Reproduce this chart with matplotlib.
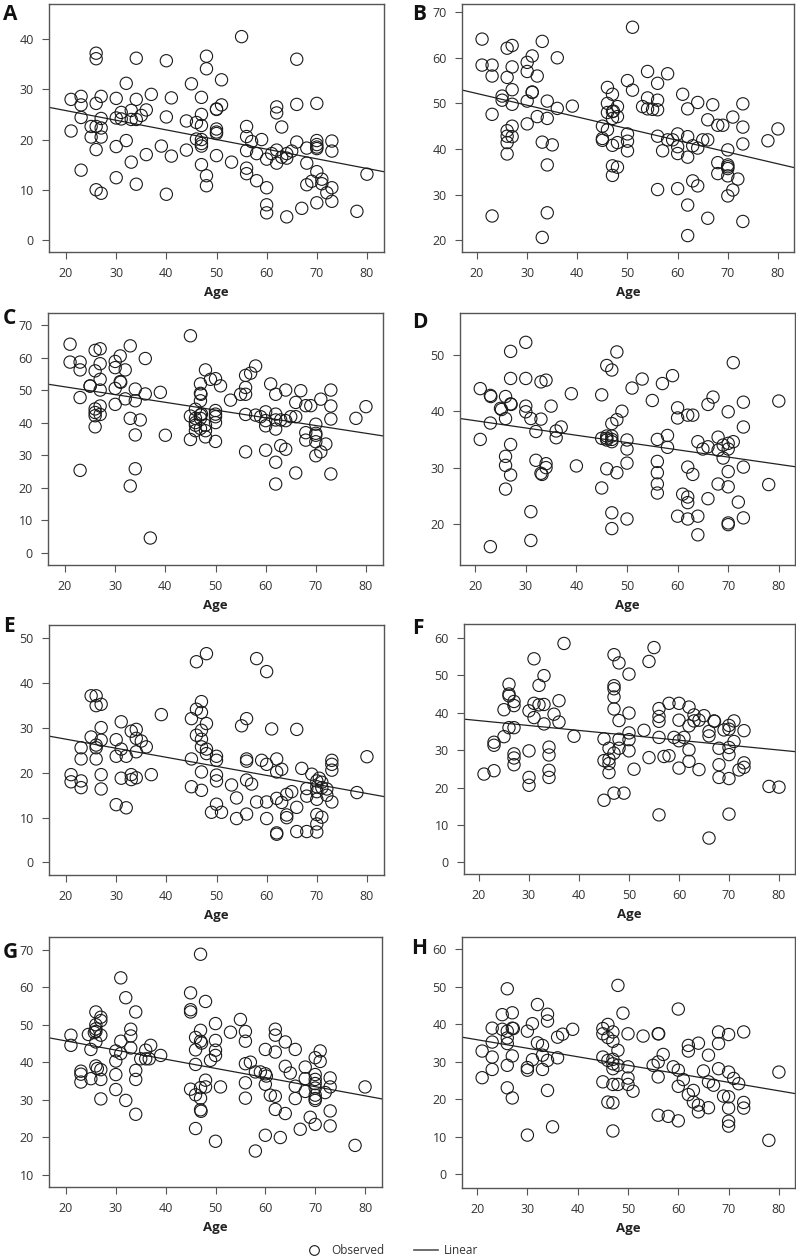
import matplotlib
matplotlib.use("Agg")
import matplotlib.pyplot as plt
from matplotlib.lines import Line2D
import numpy as np

plt.rcParams['font.family'] = ['Open Sans', 'DejaVu Sans']

# ---------------- data (age, value) ----------------
obs_A = [(55,40.5),(26,37.2),(26,36.1),(34,36.2),(40,35.7),(48,36.6),(48,34.1),(66,36.0),(45,31.1),(32,31.2),(51,31.9),
         (21,28.0),(23,28.6),(23,26.9),(23,24.4),(27,28.6),(30,28.2),(34,28.0),(37,29.0),(41,28.3),(47,28.4),(26,27.2),(27,24.2),
         (30,24.3),(31,24.1),(31,25.4),(33,25.8),(33,24.0),(34,24.0),(35,24.8),(36,25.9),(40,24.5),(44,23.7),(46,23.4),(47,25.0),(47,22.8),
         (50,26.1),(50,26.0),(51,26.9),(50,22.1),(50,21.5),(50,21.2),(21,21.7),(25,22.6),(26,22.6),(27,22.3),(25,20.5),(27,20.5),(26,18.0),
         (32,19.8),(30,18.6),(23,13.9),(33,15.5),(36,17.0),(39,18.7),(41,16.7),(44,17.9),(46,20.1),(47,20.0),(47,19.2),(47,18.7),(47,15.0),
         (50,16.8),(48,12.8),(48,10.8),(30,12.4),(26,10.0),(27,9.3),(34,11.1),(40,9.1),(53,15.5),(56,22.6),(56,20.6),(56,17.8),(57,19.6),
         (59,20.0),(58,17.2),(56,14.3),(56,13.2),(58,11.8),(60,10.4),(60,7.0),(60,5.4),(64,4.6),(62,26.5),(62,25.3),(63,22.5),(61,17.2),
         (60,16.1),(62,17.9),(62,15.3),(63,16.5),(64,17.2),(64,16.3),(65,17.7),(66,19.5),(66,27.0),(70,27.2),(68,18.3),(70,19.8),(70,19.0),
         (70,18.5),(70,18.2),(73,19.7),(73,17.7),(68,15.3),(70,13.6),(71,12.1),(71,11.2),(68,11.0),(69,11.7),(72,9.4),(73,10.4),(70,7.4),
         (73,7.7),(67,6.3),(78,5.7),(80,13.1)]

obs_B = [(21,64.1),(21,58.4),(23,58.4),(23,56.0),(26,62.1),(27,62.7),(27,58.0),(26,55.7),(27,53.0),(25,51.6),(25,50.7),(27,49.8),
         (23,47.6),(26,44.0),(26,42.8),(26,41.4),(27,45.0),(27,42.7),(26,38.9),(30,59.0),(30,57.0),(31,60.4),(31,52.5),(31,52.4),
         (32,56.0),(30,50.5),(30,45.5),(32,47.1),(33,63.6),(34,50.5),(34,46.7),(33,41.5),(35,40.9),(34,36.5),(34,26.0),(33,20.6),
         (23,25.3),(36,60.0),(36,48.9),(39,49.4),(46,53.5),(46,50.0),(46,48.0),(47,52.0),(47,48.2),(47.2,48.3),(47,46.7),(46,44.2),
         (45,45.0),(45,42.3),(45,41.9),(48,49.3),(48,47.1),(47,40.8),(48,41.4),(47,36.3),(47,34.2),(48,36.0),(50,55.0),(51,52.9),
         (51,66.7),(50,43.3),(50,41.7),(50,39.6),(53,49.3),(54,57.0),(54,51.2),(54,48.8),(55,48.7),(56,48.6),(56,54.4),(56,50.7),
         (58,56.5),(56,42.8),(58,42.0),(59,42.0),(57,39.6),(56,31.1),(61,52.0),(62,48.8),(64,50.2),(60,43.3),(60,40.5),(60,39.0),
         (62,42.7),(63,40.7),(65,42.0),(64,40.2),(66,42.0),(62,38.2),(63,33.0),(64,31.9),(60,31.3),(62,27.7),(62,21.0),(66,24.8),
         (66,46.4),(67,49.7),(68,45.2),(69,45.2),(71,47.0),(73,49.9),(73,44.8),(73,41.1),(70,39.8),(68,37.0),(68,34.6),(70,36.5),
         (70,36.1),(70,35.7),(70,34.1),(70,29.7),(72,33.4),(71,31.0),(73,24.1),(78,41.8),(80,44.4)]

obs_C = [(21,64.2),(21,58.7),(23,58.7),(23,56.3),(23,47.8),(23,25.4),(26,62.3),(27,62.8),(27,58.2),(26,56.0),(27,53.4),(25,51.4),
         (25,51.3),(27,50.1),(27,45.2),(26,44.3),(26,43.2),(26,42.2),(27,42.6),(26,38.8),(30,58.9),(30,57.0),(31,60.6),(31,52.7),
         (31.1,52.5),(32,56.3),(33,63.7),(30,50.6),(32,47.4),(30,45.7),(34,50.4),(34,46.8),(36,48.9),(36,59.8),(33,41.4),(35,40.9),
         (34,36.3),(34,25.9),(33,20.6),(37,4.6),(39,49.4),(40,36.2),(45,66.8),(45,34.9),(45,42.1),(46,44.2),(46,41.4),(46,40.1),
         (46,39.3),(46,37.6),(47,52.0),(47,49.1),(47.1,48.8),(47,46.8),(47,42.4),(47,41.4),(47.2,42.7),(47,38.3),(48,37.6),(48,35.7),
         (48,39.3),(48,56.3),(49,53.4),(50,53.6),(51,51.4),(50,43.8),(50,42.7),(50,41.9),(50,40.1),(50,34.3),(53,47.0),(55,48.8),
         (56,48.8),(56,50.9),(56,54.6),(57,55.3),(58,57.5),(56,42.6),(58,42.4),(59,41.9),(56,31.1),(60,43.4),(60,40.7),(60,39.1),
         (61,52.0),(62,48.8),(64,50.1),(62,42.7),(62,40.9),(62,38.1),(63,40.9),(64,40.7),(65,41.9),(60,31.6),(63,33.0),(64,31.9),
         (62,27.9),(62,21.2),(66,46.3),(66,41.9),(67,49.9),(68,45.3),(69,45.3),(68,37.0),(68,34.7),(71,47.3),(70,39.6),(70,36.8),
         (70,36.2),(70,34.2),(70,29.9),(71,31.1),(72,33.5),(66,24.6),(73,50.1),(73,45.2),(73,41.2),(73,24.3),(78,41.4),(80,45.0)]

obs_D = [(21,44.0),(21,35.0),(23,42.8),(23.1,42.6),(23,37.9),(23,16.0),(26,42.6),(25,40.5),(25.2,40.3),(26,38.7),(27,41.3),
         (27.1,41.2),(27,50.6),(27,45.8),(27,34.1),(26,32.0),(26,30.4),(27,28.7),(26,26.2),(30,52.2),(30,45.8),(30,40.9),(30,39.9),
         (31,38.7),(33,38.6),(32,36.4),(33,45.2),(34,45.5),(35,40.9),(36,36.5),(36,35.3),(37,37.2),(32,31.3),(33,29.0),(33.2,28.8),
         (34,30.7),(34,30.0),(31,22.2),(31,17.1),(39,43.1),(40,30.3),(45,42.9),(45,35.2),(46,48.1),(47,47.3),(48,50.5),(49,40.0),
         (48,38.5),(47,37.8),(46,35.6),(46,35.2),(46,34.9),(47,35.6),(47,35.0),(47,34.6),(46,29.8),(48,29.1),(45,26.4),(47,22.0),
         (47,19.2),(50,34.9),(50,33.3),(50,30.8),(50,20.9),(51,44.1),(53,45.7),(55,41.9),(57,44.9),(59,46.3),(56,35.0),(58,35.7),
         (58,33.6),(56,31.1),(56,29.1),(56,27.1),(56,25.5),(60,40.6),(60,38.8),(62,39.3),(63,39.3),(62,30.1),(63,28.8),(61,25.3),
         (62,24.8),(62,23.8),(60,21.4),(62,20.9),(64,21.4),(64,18.1),(64,34.6),(65,33.3),(66,33.7),(66,41.2),(67,42.5),(66,24.5),
         (68,35.4),(68,33.1),(68,27.1),(69,34.0),(70,34.3),(70,33.3),(71,34.6),(69,31.7),(70,39.9),(71,48.6),(73,41.6),(73,37.2),
         (73,30.1),(70,29.3),(70,26.6),(72,23.9),(73,21.1),(70,20.2),(70,19.9),(78,27.0),(80,41.8)]

obs_E = [(21,19.6),(21,18.0),(23,25.6),(23,23.1),(23,18.2),(23,16.7),(25,37.2),(26,37.2),(26,35.0),(27,35.3),(25,28.0),(27,30.1),
         (27,27.3),(26,26.2),(26,25.6),(26,23.1),(27,19.6),(27,16.4),(30,27.4),(30,23.7),(31,31.4),(31,25.3),(33,29.3),(34,29.7),
         (34,27.7),(35,27.1),(36,25.8),(32,23.7),(34,24.7),(31,18.8),(33,19.6),(33,18.5),(34,18.9),(37,19.6),(30,12.9),(32,12.2),
         (39,33.0),(46,44.8),(48,46.6),(47,35.9),(46,34.2),(47,33.5),(45,32.1),(48,31.0),(47,29.5),(46,28.4),(47,27.5),(47,25.8),
         (48,25.3),(48,24.3),(45,23.1),(50,23.7),(50,22.8),(47,20.2),(50,19.5),(50,18.2),(45,16.9),(47,16.1),(50,13.0),(49,11.2),
         (51,11.2),(53,17.3),(54,14.4),(54,9.8),(55,30.5),(56,32.1),(56,23.1),(56,22.6),(56,18.4),(57,17.5),(56,10.8),(58,13.5),
         (58,45.5),(60,42.6),(59,22.8),(60,21.9),(62,23.1),(62,20.2),(63,20.8),(61,29.8),(66,29.7),(60,13.5),(60,9.8),(62,14.3),
         (63,13.4),(64,15.2),(65,15.8),(64,10.6),(64,10.0),(62,6.6),(62,6.3),(66,12.3),(66,6.9),(68,6.9),(67,21.0),(69,19.7),
         (68,16.5),(68,14.8),(70,18.2),(70.5,18.8),(71,17.9),(70,16.9),(71,16.7),(70,15.8),(70,14.1),(72,15.0),(72,16.4),(73,22.8),
         (73,21.9),(73,20.6),(73,13.5),(70,10.7),(70,8.6),(70,6.8),(71,10.1),(78,15.6),(80,23.6)]

obs_F = [(21,23.6),(23,32.1),(23,31.3),(23,24.5),(25,40.8),(25,33.6),(26,47.6),(26,45.0),(26,44.5),(27,43.0),(27,41.9),(26,36.0),
         (27,36.0),(27,29.0),(27,27.9),(27,26.1),(30,40.5),(31,38.7),(31,42.5),(32,42.1),(33,42.2),(31,54.4),(33,49.9),(32,47.3),
         (33,37.0),(35,39.6),(36,43.2),(36,37.5),(30,29.8),(30,22.7),(30,20.6),(34,30.8),(34,28.7),(34,24.6),(34,22.7),(37,58.5),
         (39,33.7),(45,33.0),(45,27.2),(45,16.6),(47,55.5),(48,53.3),(50,50.3),(47,47.2),(47,46.4),(47,44.2),(47,41.0),(48,37.9),
         (50,39.9),(46,30.5),(47,29.2),(48,32.9),(48,30.5),(46,27.6),(46,26.4),(46,24.0),(50,34.6),(50,32.8),(50,29.8),(51,24.9),
         (47,18.5),(49,18.5),(53,35.3),(54,28.0),(54,53.7),(55,57.4),(56,41.1),(56,39.0),(56,37.7),(56,33.4),(57,28.3),(58,28.5),
         (56,12.7),(58,42.5),(60,42.5),(62,41.5),(63,39.4),(65,39.2),(60,38.0),(62,36.5),(63,37.8),(64,38.0),(59,33.4),(60,32.5),
         (61,33.4),(62,30.1),(62,27.0),(60,25.2),(64,24.8),(66,35.0),(66,33.8),(67,37.8),(67.1,37.7),(69,35.4),(70,36.6),(70,35.6),
         (71,37.8),(73,35.2),(68,30.5),(70,30.7),(70,28.8),(71,32.3),(68,26.1),(68,22.7),(70,22.4),(72,24.7),(73,25.4),(73,26.6),
         (66,6.5),(70,12.9),(78,20.3),(80,20.1)]

obs_G = [(21,47.2),(21,44.5),(23,37.6),(23,36.8),(23,34.7),(25,35.6),(25,43.4),(24.5,47.4),(26,53.4),(26,50.0),(26,48.9),(26,48.2),
         (26,45.4),(25.7,47.9),(27,52.0),(27,51.1),(27,47.2),(26,39.0),(26.3,38.3),(27,38.0),(27,35.4),(27,30.2),(30,43.0),(30,40.3),
         (30,36.7),(30,32.7),(31,62.5),(32,57.2),(34,53.4),(31,45.6),(31,42.3),(33,48.8),(33,47.0),(33,43.8),(32,29.8),(34,26.1),
         (34,37.8),(34,35.4),(35,40.9),(36,40.9),(36.7,40.9),(36,43.2),(37,44.5),(39,41.8),(45,58.5),(45,54.0),(45,53.4),(47,68.8),
         (48,56.2),(46,46.6),(46,43.3),(47,48.5),(47,45.6),(47.2,45.1),(46,39.4),(45,32.8),(46,31.3),(47,33.2),(47,30.4),(48,35.2),
         (48,33.4),(47,27.3),(47.1,26.9),(46,22.3),(50,50.3),(50,45.8),(50,43.2),(50,41.8),(49,40.5),(51,33.4),(50,18.9),(53,48.0),
         (55,51.4),(56,48.2),(56,45.6),(56,39.6),(57,40.0),(58,37.4),(59,37.4),(60,36.9),(60.2,36.3),(56,34.5),(56,30.4),(60,43.4),
         (60,34.1),(61,31.2),(62,30.9),(62,48.8),(62,47.2),(62,42.7),(64,45.4),(66,43.4),(64,38.9),(65,37.1),(66,33.6),(66,30.3),
         (62,27.4),(64,26.3),(60,20.5),(63,19.9),(58,16.3),(67,22.1),(68,38.7),(68,35.6),(68,32.2),(70,41.2),(71,43.0),(71,40.2),
         (70,36.7),(70,35.4),(70,34.3),(70,33.1),(70,31.2),(70,30.3),(70,29.8),(72,31.9),(69,25.3),(70,23.4),(73,35.8),(73,33.4),
         (73,27.0),(73,23.0),(78,17.8),(80,33.4)]

obs_H = [(21,32.9),(21,25.8),(23,39.0),(23,35.3),(23,31.3),(23,28.0),(25,42.6),(25,38.7),(26,49.5),(27,43.1),(26,38.2),(26,36.4),
         (26,34.9),(27,39.0),(27.2,38.9),(26,29.1),(27,31.6),(26,23.1),(27,20.4),(30,38.2),(31,40.2),(32,45.3),(32,35.1),(33,34.4),
         (33,31.8),(31,30.6),(30,28.5),(30,27.8),(33,28.0),(34,30.4),(34,42.7),(34,40.9),(34,22.4),(35,12.7),(30,10.5),(36,36.6),
         (37,37.4),(36,31.1),(39,38.7),(45,38.9),(45,37.5),(46,40.0),(47,38.0),(46,36.5),(47,35.5),(45,31.3),(46,30.4),(47,30.7),
         (47,29.5),(47,28.2),(48,33.1),(48,29.1),(45,24.7),(47,24.0),(48,24.0),(46,19.3),(47,19.1),(47,11.6),(48,50.4),(49,43.0),
         (50,37.5),(53,36.9),(56,37.5),(56.1,37.5),(50,28.7),(50,25.7),(50,24.0),(51,22.2),(55,29.1),(56,30.0),(57,32.0),(56,26.0),
         (59,28.7),(60,27.8),(61,25.3),(60,23.5),(56,15.8),(58,15.5),(60,14.3),(60,44.1),(62,34.4),(62,32.9),(64,35.0),(66,31.8),
         (62,21.3),(63,22.4),(63,19.3),(64,18.5),(64,16.7),(66,17.8),(65,27.6),(66,24.7),(67,23.8),(68,38.0),(68,34.9),(68,28.2),
         (70,37.3),(73,38.0),(70,27.3),(71,25.6),(72,24.2),(69,20.9),(70,20.7),(70,17.7),(70,14.2),(70,12.9),(73,19.2),(73,17.7),
         (78,9.1),(80,27.3)]

# linear fit lines: (intercept, slope)
fit_A = (29.6, -0.192)
fit_B = (57.3, -0.257)
fit_C = (55.85, -0.238)
fit_D = (40.9, -0.129)
fit_E = (31.55, -0.202)
fit_F = (40.5, -0.131)
fit_G = (50.55, -0.244)
fit_H = (40.46, -0.227)

panel_labels = ['A', 'B', 'C', 'D', 'E', 'F', 'G', 'H']
x_ticks = [20, 30, 40, 50, 60, 70, 80]
y_ticks_A = [0, 10, 20, 30, 40]
y_ticks_B = [20, 30, 40, 50, 60, 70]
y_ticks_C = [0, 10, 20, 30, 40, 50, 60, 70]
y_ticks_D = [20, 30, 40, 50]
y_ticks_E = [0, 10, 20, 30, 40, 50]
y_ticks_F = [0, 10, 20, 30, 40, 50, 60]
y_ticks_G = [10, 20, 30, 40, 50, 60, 70]
y_ticks_H = [0, 10, 20, 30, 40, 50, 60]

# ---------------- layout ----------------
W, H = 796, 1256
fig = plt.figure(figsize=(W / 100, H / 100), dpi=100)

def box(l, t, r, b):
    return [l / W, 1 - b / H, (r - l) / W, (b - t) / H]

panels = [
    dict(obs=obs_A, fit=fit_A, yt=y_ticks_A, ylim=(-2.4, 47.0), rect=box(49, 4, 384, 252), xlim=(16.6, 83.4), lab=(3, 14)),
    dict(obs=obs_B, fit=fit_B, yt=y_ticks_B, ylim=(17.4, 71.8), rect=box(462, 4, 794, 252), xlim=(17.0, 83.2), lab=(412, 14)),
    dict(obs=obs_C, fit=fit_C, yt=y_ticks_C, ylim=(-3.7, 73.8), rect=box(48, 313, 383, 565), xlim=(16.6, 83.4), lab=(3, 318)),
    dict(obs=obs_D, fit=fit_D, yt=y_ticks_D, ylim=(12.75, 57.4), rect=box(460, 313, 795, 565), xlim=(17.0, 83.2), lab=(412, 322)),
    dict(obs=obs_E, fit=fit_E, yt=y_ticks_E, ylim=(-2.8, 53.0), rect=box(49, 625, 384, 875), xlim=(16.6, 83.4), lab=(3, 627)),
    dict(obs=obs_F, fit=fit_F, yt=y_ticks_F, ylim=(-3.1, 63.7), rect=box(464, 624, 795, 874), xlim=(17.0, 83.2), lab=(412, 629)),
    dict(obs=obs_G, fit=fit_G, yt=y_ticks_G, ylim=(6.7, 73.4), rect=box(49, 937, 382, 1187), xlim=(16.6, 83.4), lab=(3, 952)),
    dict(obs=obs_H, fit=fit_H, yt=y_ticks_H, ylim=(-3.6, 63.3), rect=box(462, 937, 795, 1188), xlim=(17.0, 83.2), lab=(411, 948)),
]

spine_c = '#555555'
text_c = '#333333'

for letter, p in zip(panel_labels, panels):
    ax = fig.add_axes(p['rect'])
    ages = np.array([o[0] for o in p['obs']])
    vals = np.array([o[1] for o in p['obs']])
    ax.scatter(ages, vals, s=78, facecolors='none', edgecolors='#1a1a1a', linewidths=0.8, zorder=3)
    xl = np.array(p['xlim'])
    b0, b1 = p['fit']
    ax.plot(xl, b0 + b1 * xl, color='#222222', lw=0.9, zorder=2)
    ax.set_xlim(*p['xlim'])
    ax.set_ylim(*p['ylim'])
    ax.set_xticks(x_ticks)
    ax.set_yticks(p['yt'])
    for s in ax.spines.values():
        s.set_color(spine_c)
        s.set_linewidth(1.0)
    ax.tick_params(direction='out', length=5, width=0.8, color=spine_c,
                   labelsize=9, labelcolor=text_c, pad=6)
    ax.set_xlabel('Age', fontsize=9.5, fontweight='bold', color='#222222', labelpad=4)
    fig.text(p['lab'][0] / W, 1 - p['lab'][1] / H, letter, fontsize=15, fontweight='bold',
             ha='left', va='center', color='#111111')

handles = [Line2D([], [], marker='o', linestyle='none', markerfacecolor='none',
                  markeredgecolor='#1a1a1a', markersize=7, markeredgewidth=0.8, label='Observed'),
           Line2D([], [], color='#555555', lw=1.2, label='Linear')]
fig.legend(handles=handles, loc='center', bbox_to_anchor=(0.49, 1 - 1251 / H), ncol=2,
           frameon=False, fontsize=8.5, handlelength=2.0, columnspacing=2.5, handletextpad=0.5,
           labelcolor=text_c)

fig.savefig('out.png', dpi=100)
